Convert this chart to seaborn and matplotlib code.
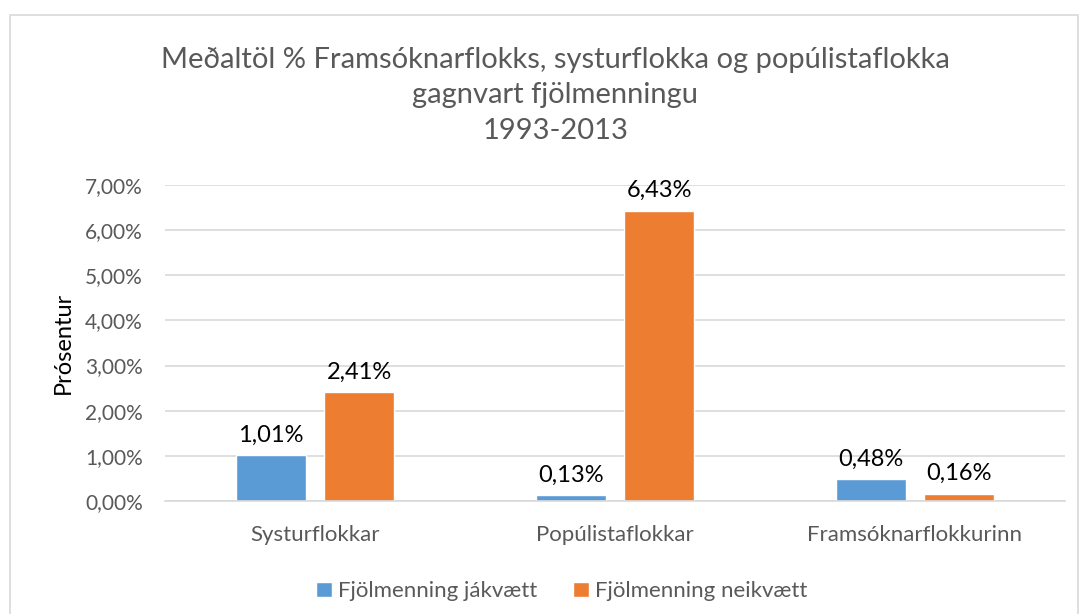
import pandas as pd
import matplotlib.pyplot as plt
import seaborn as sns
from matplotlib.patches import Rectangle
from matplotlib.ticker import FuncFormatter

categories = ['Systurflokkar', 'Popúlistaflokkar', 'Framsóknarflokkurinn']
series = ['Fjölmenning jákvætt', 'Fjölmenning neikvætt']
jakvaett = [1.01, 0.13, 0.48]
neikvaett = [2.41, 6.43, 0.16]
colors = ['#5B9BD5', '#ED7D31']

df = pd.DataFrame({
    'flokkur': categories * 2,
    'tegund': [series[0]] * 3 + [series[1]] * 3,
    'gildi': jakvaett + neikvaett,
})

sns.set_style('white')
plt.rcParams['font.family'] = ['Lato', 'DejaVu Sans']

fig = plt.figure(figsize=(10.91, 6.14), dpi=100)
ax = fig.add_axes([0.1512, 0.184, 0.8248, 0.5147])

sns.barplot(data=df, x='flokkur', y='gildi', hue='tegund', palette=colors,
            width=0.59, gap=0.21, ax=ax, legend=True, saturation=1)

for cont in ax.containers:
    ax.bar_label(cont, labels=[f'{v:.2f}%'.replace('.', ',') for v in cont.datavalues],
                 padding=7, fontsize=17, color='#000000')

ax.set_ylim(0, 7)
ax.set_yticks(range(0, 8))
ax.yaxis.set_major_formatter(FuncFormatter(lambda v, p: f'{v:.2f}%'.replace('.', ',')))
ax.grid(axis='y', color='#D9D9D9', linewidth=1.2)
ax.set_axisbelow(True)
for s in ['top', 'right', 'left']:
    ax.spines[s].set_visible(False)
ax.spines['bottom'].set_color('#D9D9D9')
ax.spines['bottom'].set_linewidth(1.2)
ax.tick_params(axis='both', length=0, labelcolor='#595959')
ax.tick_params(axis='y', pad=16, labelsize=15)
ax.tick_params(axis='x', pad=17, labelsize=16)
ax.set_xlabel('')
ax.set_ylabel('Prósentur', fontsize=17, color='#000000', labelpad=8)

ax.legend(loc='upper center', bbox_to_anchor=(0.441, -0.19), ncol=2, frameon=False,
          fontsize=16, handlelength=0.7, handleheight=0.7, handletextpad=0.3,
          columnspacing=1.6, labelcolor='#595959')

fig.text(0.509, 0.845, 'Meðaltöl % Framsóknarflokks, systurflokka og popúlistaflokka\n'
         'gagnvart fjölmenningu\n1993-2013', ha='center', va='center',
         fontsize=21, color='#595959', linespacing=1.45)

fig.patches.append(Rectangle((0.009, -0.01), 0.979, 0.985, transform=fig.transFigure,
                             fill=False, edgecolor='#D9D9D9', linewidth=1.2))

plt.savefig('out.png', dpi=100)
